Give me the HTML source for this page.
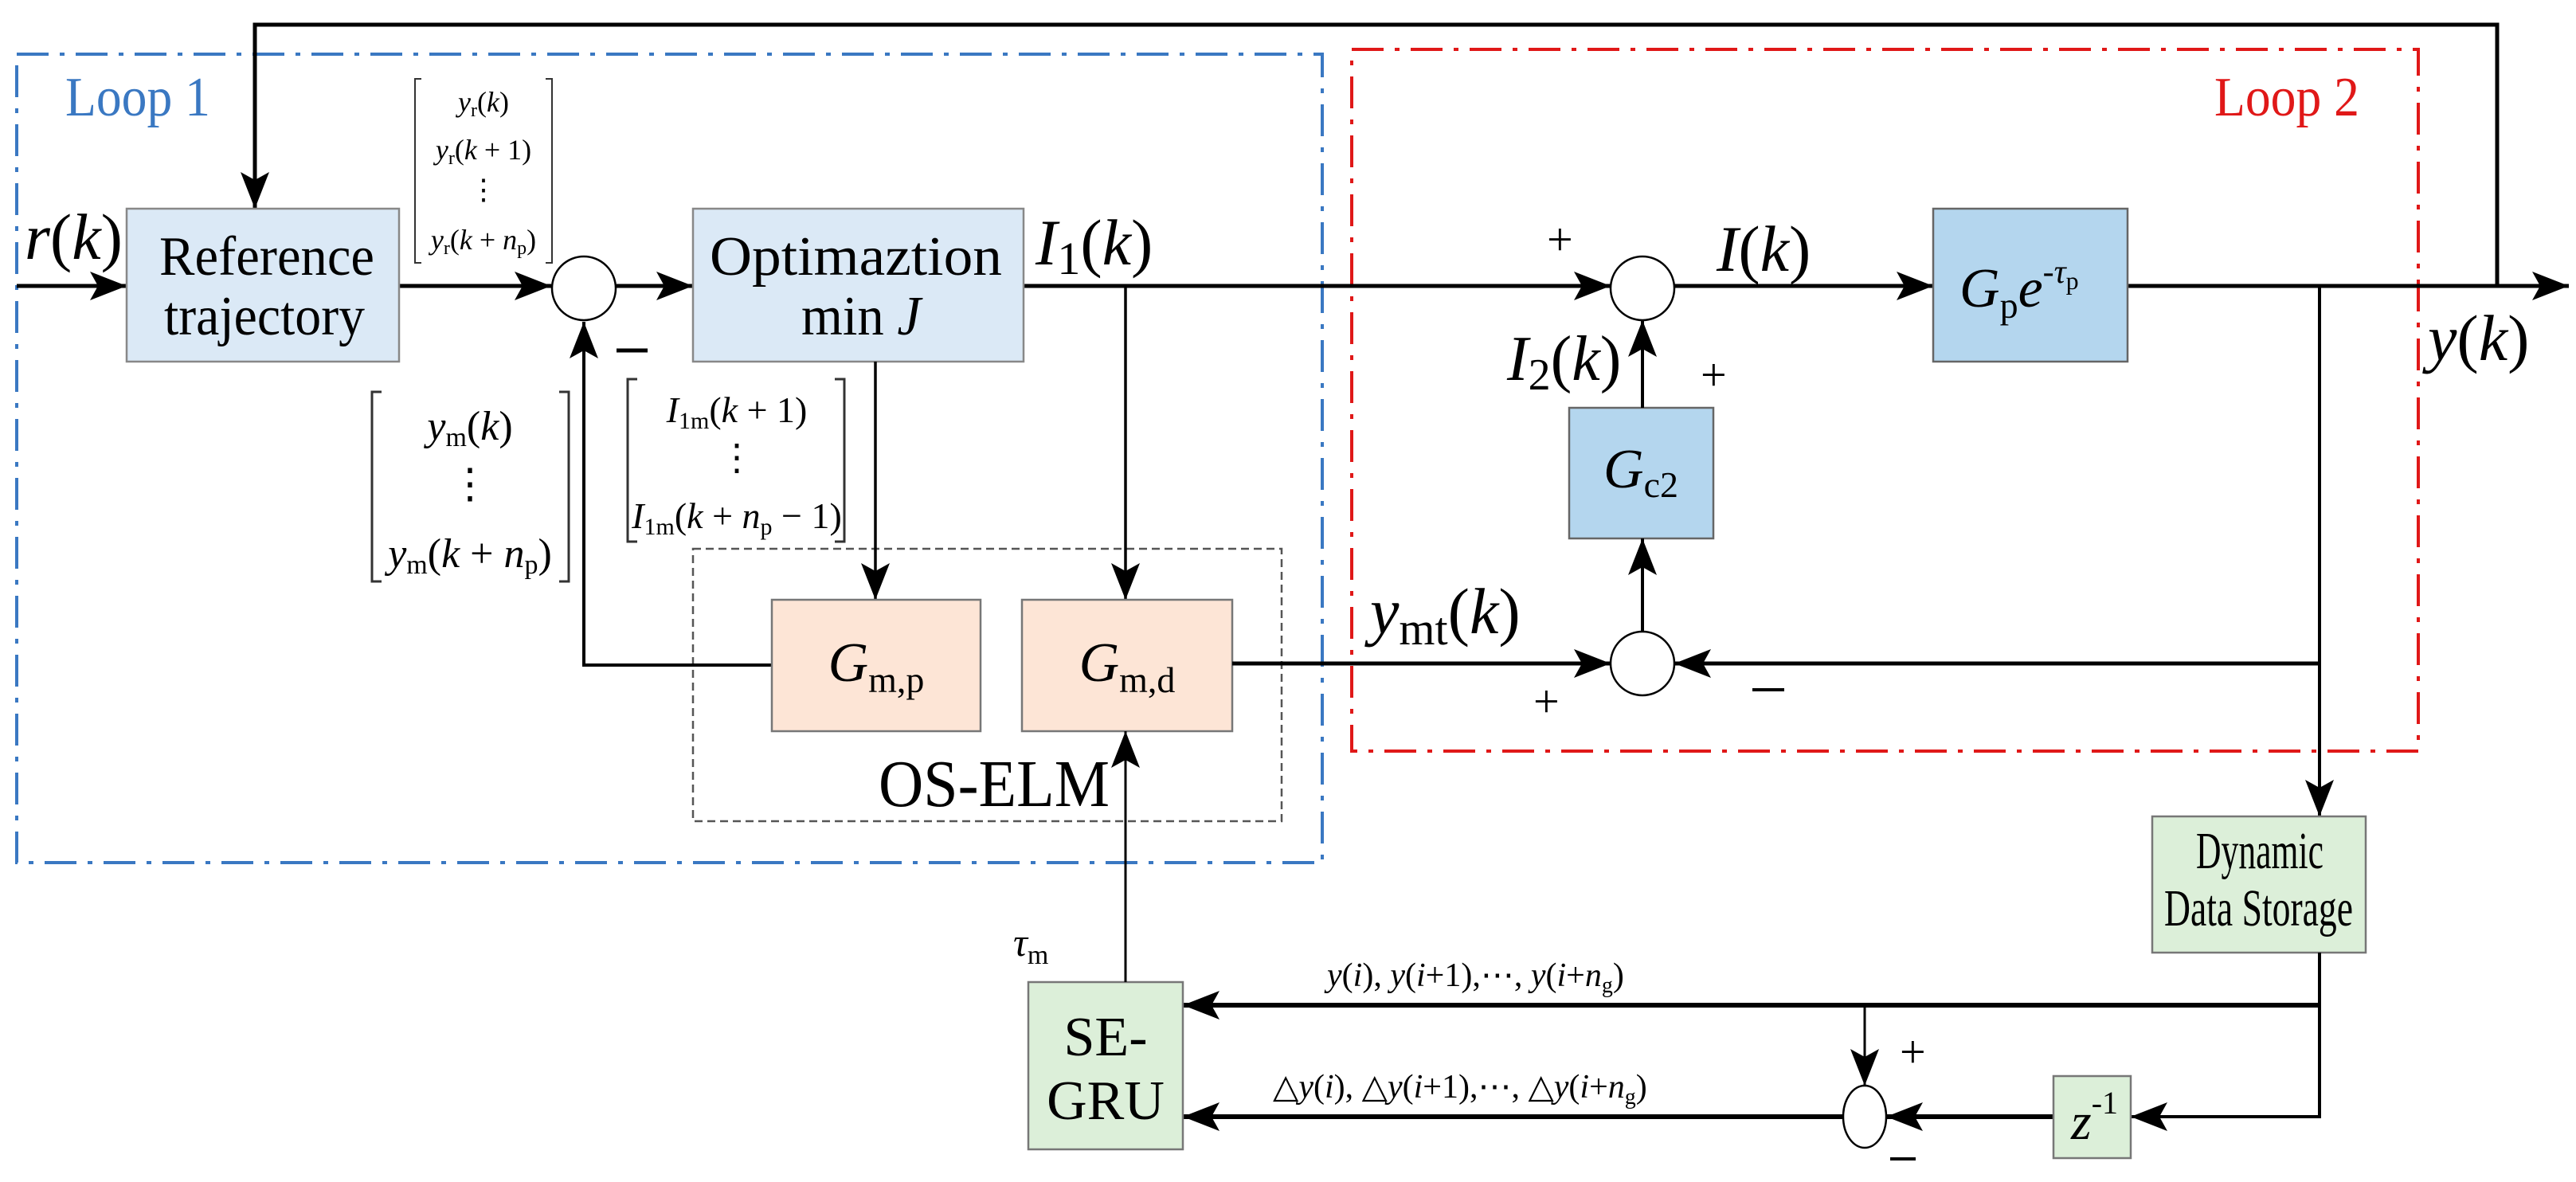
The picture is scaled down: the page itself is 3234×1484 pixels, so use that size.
<!DOCTYPE html>
<html><head><meta charset="utf-8"><style>
html,body{margin:0;padding:0;background:#fff;}
svg{display:block;}
text{font-family:"Liberation Serif",serif;fill:#000;}
.it{font-style:italic;}
</style></head><body>
<svg width="3234" height="1484" viewBox="0 0 3234 1484" xmlns="http://www.w3.org/2000/svg">
<defs>
<marker id="a" markerUnits="userSpaceOnUse" markerWidth="50" markerHeight="40" refX="46" refY="18" orient="auto">
<path d="M0,0 L46,18 L0,36 L10,18 Z" fill="#000"/>
</marker>
</defs>

<!-- Loop boxes -->
<rect x="21" y="68" width="1639" height="1015" fill="none" stroke="#3a78c2" stroke-width="4" stroke-dasharray="40,14,6,14"/>
<text x="82" y="145" font-size="70" textLength="182" lengthAdjust="spacingAndGlyphs" style="fill:#3a78c2">Loop 1</text>
<rect x="1697" y="62" width="1339" height="881" fill="none" stroke="#e01818" stroke-width="4" stroke-dasharray="40,14,6,14"/>
<text x="2780" y="145" font-size="70" textLength="182" lengthAdjust="spacingAndGlyphs" style="fill:#e01818">Loop 2</text>

<!-- OS-ELM dashed box -->
<rect x="870" y="689" width="739" height="342" fill="none" stroke="#555" stroke-width="2.5" stroke-dasharray="10,6"/>
<text x="1103" y="1012" font-size="84" textLength="290" lengthAdjust="spacingAndGlyphs">OS-ELM</text>

<!-- top feedback -->
<polyline points="3135,359 3135,31 320,31 320,262" fill="none" stroke="#000" stroke-width="5" marker-end="url(#a)"/>

<!-- main line -->
<line x1="21" y1="359" x2="159" y2="359" stroke="#000" stroke-width="5" marker-end="url(#a)"/>
<line x1="501" y1="359" x2="692" y2="359" stroke="#000" stroke-width="5" marker-end="url(#a)"/>
<line x1="774" y1="359" x2="870" y2="359" stroke="#000" stroke-width="5" marker-end="url(#a)"/>
<line x1="1285" y1="359" x2="2022" y2="359" stroke="#000" stroke-width="5" marker-end="url(#a)"/>
<line x1="2102" y1="359" x2="2427" y2="359" stroke="#000" stroke-width="5" marker-end="url(#a)"/>
<line x1="2671" y1="359" x2="3225" y2="359" stroke="#000" stroke-width="5" marker-end="url(#a)"/>

<!-- blocks -->
<rect x="159" y="262" width="342" height="192" fill="#dbe9f6" stroke="#888" stroke-width="2.5"/>
<text x="200" y="345" font-size="70" textLength="270" lengthAdjust="spacingAndGlyphs">Reference</text>
<text x="206" y="420" font-size="70" textLength="252" lengthAdjust="spacingAndGlyphs">trajectory</text>
<rect x="870" y="262" width="415" height="192" fill="#dbe9f6" stroke="#888" stroke-width="2.5"/>
<text x="891" y="345" font-size="70" textLength="367" lengthAdjust="spacingAndGlyphs">Optimaztion</text>
<text x="1006" y="420" font-size="70" textLength="150" lengthAdjust="spacingAndGlyphs">min <tspan class="it">J</tspan></text>

<circle cx="733" cy="362" r="40" fill="#fff" stroke="#000" stroke-width="2.5"/>
<line x1="774" y1="440" x2="813" y2="440" stroke="#000" stroke-width="5"/>

<text x="31" y="325" font-size="82" class="it">r<tspan font-style="normal">(</tspan>k<tspan font-style="normal">)</tspan></text>
<text x="1300" y="332" font-size="82" class="it">I<tspan font-style="normal" font-size="58" dy="12">1</tspan><tspan font-style="normal" dy="-12">(</tspan>k<tspan font-style="normal">)</tspan></text>

<!-- yr vector -->
<path d="M529,99 H521 V330 H529 M685,99 H693 V330 H685" fill="none" stroke="#333" stroke-width="2"/>
<g font-size="36" text-anchor="middle">
<text x="607" y="140" class="it">y<tspan font-style="normal" font-size="24" dy="6">r</tspan><tspan font-style="normal" dy="-6">(</tspan>k<tspan font-style="normal">)</tspan></text>
<text x="607" y="200" class="it">y<tspan font-style="normal" font-size="24" dy="6">r</tspan><tspan font-style="normal" dy="-6">(</tspan>k<tspan font-style="normal"> + 1)</tspan></text>
<text x="607" y="250">⋮</text>
<text x="607" y="313" class="it">y<tspan font-style="normal" font-size="24" dy="6">r</tspan><tspan font-style="normal" dy="-6">(</tspan>k<tspan font-style="normal"> + </tspan>n<tspan font-style="normal" font-size="24" dy="6">p</tspan><tspan font-style="normal" dy="-6">)</tspan></text>
</g>

<!-- ym vector -->
<path d="M479,492 H467 V730 H479 M702,492 H714 V730 H702" fill="none" stroke="#333" stroke-width="3"/>
<g font-size="52" text-anchor="middle">
<text x="590" y="552" class="it">y<tspan font-style="normal" font-size="34" dy="8">m</tspan><tspan font-style="normal" dy="-8">(</tspan>k<tspan font-style="normal">)</tspan></text>
<text x="590" y="625">⋮</text>
<text x="590" y="712" class="it">y<tspan font-style="normal" font-size="34" dy="8">m</tspan><tspan font-style="normal" dy="-8">(</tspan>k<tspan font-style="normal"> + </tspan>n<tspan font-style="normal" font-size="34" dy="8">p</tspan><tspan font-style="normal" dy="-8">)</tspan></text>
</g>

<!-- I1m vector -->
<path d="M800,476 H788 V680 H800 M1048,476 H1060 V680 H1048" fill="none" stroke="#333" stroke-width="3"/>
<g font-size="46" text-anchor="middle">
<text x="925" y="530" class="it">I<tspan font-style="normal" font-size="30" dy="8">1m</tspan><tspan font-style="normal" dy="-8">(</tspan>k<tspan font-style="normal"> + 1)</tspan></text>
<text x="925" y="590">⋮</text>
<text x="925" y="663" class="it">I<tspan font-style="normal" font-size="30" dy="8">1m</tspan><tspan font-style="normal" dy="-8">(</tspan>k<tspan font-style="normal"> + </tspan>n<tspan font-style="normal" font-size="30" dy="8">p</tspan><tspan font-style="normal" dy="-8"> − 1)</tspan></text>
</g>

<!-- model arrows -->
<line x1="1099" y1="454" x2="1099" y2="753" stroke="#000" stroke-width="3.5" marker-end="url(#a)"/>
<line x1="1413" y1="359" x2="1413" y2="753" stroke="#000" stroke-width="3.5" marker-end="url(#a)"/>
<polyline points="969,835 733,835 733,404" fill="none" stroke="#000" stroke-width="4" marker-end="url(#a)"/>

<rect x="969" y="753" width="262" height="165" fill="#fde5d6" stroke="#777" stroke-width="2.5"/>
<text x="1100" y="855" font-size="70" text-anchor="middle" class="it">G<tspan font-style="normal" font-size="46" dy="14">m,p</tspan></text>
<rect x="1283" y="753" width="264" height="165" fill="#fde5d6" stroke="#777" stroke-width="2.5"/>
<text x="1415" y="855" font-size="70" text-anchor="middle" class="it">G<tspan font-style="normal" font-size="46" dy="14">m,d</tspan></text>

<!-- Loop2 internals -->
<circle cx="2062" cy="362" r="40" fill="#fff" stroke="#000" stroke-width="2.5"/>
<text x="1942" y="320" font-size="58">+</text>
<text x="2155" y="340" font-size="82" class="it">I<tspan font-style="normal">(</tspan>k<tspan font-style="normal">)</tspan></text>

<rect x="2427" y="262" width="244" height="192" fill="#b4d6ee" stroke="#666" stroke-width="2.5"/>
<text x="2460" y="385" font-size="70" class="it">G<tspan font-style="normal" font-size="46" dy="14">p</tspan><tspan dy="-14">e</tspan><tspan font-size="42" dy="-30">-τ</tspan><tspan font-style="normal" font-size="32" dy="8">p</tspan></text>

<text x="3048" y="452" font-size="82" class="it">y<tspan font-style="normal">(</tspan>k<tspan font-style="normal">)</tspan></text>

<rect x="1970" y="512" width="181" height="164" fill="#b4d6ee" stroke="#666" stroke-width="2.5"/>
<text x="2060" y="612" font-size="70" text-anchor="middle" class="it">G<tspan font-style="normal" font-size="46" dy="12">c2</tspan></text>
<line x1="2062" y1="512" x2="2062" y2="402" stroke="#000" stroke-width="4" marker-end="url(#a)"/>
<text x="1892" y="477" font-size="80" class="it">I<tspan font-style="normal" font-size="56" dy="12">2</tspan><tspan font-style="normal" dy="-12">(</tspan>k<tspan font-style="normal">)</tspan></text>
<text x="2135" y="490" font-size="58">+</text>

<circle cx="2062" cy="833" r="40" fill="#fff" stroke="#000" stroke-width="2.5"/>
<line x1="2062" y1="793" x2="2062" y2="676" stroke="#000" stroke-width="4" marker-end="url(#a)"/>
<line x1="1547" y1="833" x2="2022" y2="833" stroke="#000" stroke-width="5" marker-end="url(#a)"/>
<text x="1720" y="795" font-size="82" class="it">y<tspan font-style="normal" font-size="58" dy="14">mt</tspan><tspan font-style="normal" dy="-14">(</tspan>k<tspan font-style="normal">)</tspan></text>
<text x="1925" y="900" font-size="58">+</text>
<line x1="2200" y1="866" x2="2240" y2="866" stroke="#000" stroke-width="4"/>

<line x1="2912" y1="359" x2="2912" y2="1025" stroke="#000" stroke-width="4" marker-end="url(#a)"/>
<line x1="2912" y1="833" x2="2102" y2="833" stroke="#000" stroke-width="5" marker-end="url(#a)"/>

<!-- lower section -->
<rect x="2702" y="1025" width="268" height="171" fill="#dcefd9" stroke="#777" stroke-width="2.5"/>
<text x="2757" y="1090" font-size="66" textLength="160" lengthAdjust="spacingAndGlyphs">Dynamic</text>
<text x="2717" y="1162" font-size="66" textLength="237" lengthAdjust="spacingAndGlyphs">Data Storage</text>

<polyline points="2912,1196 2912,1402 2675,1402" fill="none" stroke="#000" stroke-width="4" marker-end="url(#a)"/>
<line x1="2912" y1="1262" x2="1485" y2="1262" stroke="#000" stroke-width="6" marker-end="url(#a)"/>
<line x1="2341" y1="1262" x2="2341" y2="1363" stroke="#000" stroke-width="3" marker-end="url(#a)"/>
<ellipse cx="2341" cy="1402" rx="27" ry="39" fill="#fff" stroke="#000" stroke-width="2.5"/>
<text x="2385" y="1340" font-size="58">+</text>
<line x1="2373" y1="1455" x2="2405" y2="1455" stroke="#000" stroke-width="4"/>
<line x1="2578" y1="1402" x2="2368" y2="1402" stroke="#000" stroke-width="6" marker-end="url(#a)"/>
<line x1="2314" y1="1402" x2="1485" y2="1402" stroke="#000" stroke-width="6" marker-end="url(#a)"/>

<rect x="2578" y="1351" width="97" height="103" fill="#dcefd9" stroke="#777" stroke-width="2.5"/>
<text x="2600" y="1430" font-size="66" class="it">z<tspan font-style="normal" font-size="40" dy="-32">-1</tspan></text>

<rect x="1291" y="1233" width="194" height="210" fill="#dcefd9" stroke="#777" stroke-width="2.5"/>
<text x="1388" y="1325" font-size="70" text-anchor="middle">SE-</text>
<text x="1388" y="1405" font-size="70" text-anchor="middle">GRU</text>
<line x1="1413" y1="1233" x2="1413" y2="918" stroke="#000" stroke-width="3" marker-end="url(#a)"/>
<text x="1272" y="1200" font-size="50" class="it">τ<tspan font-style="normal" font-size="34" dy="10">m</tspan></text>

<text x="1666" y="1238" font-size="42" class="it">y<tspan font-style="normal">(</tspan>i<tspan font-style="normal">), </tspan>y<tspan font-style="normal">(</tspan>i<tspan font-style="normal">+1),⋯, </tspan>y<tspan font-style="normal">(</tspan>i<tspan font-style="normal">+</tspan>n<tspan font-style="normal" font-size="28" dy="8">g</tspan><tspan font-style="normal" dy="-8">)</tspan></text>
<text x="1598" y="1378" font-size="42" class="it"><tspan font-style="normal">△</tspan>y<tspan font-style="normal">(</tspan>i<tspan font-style="normal">), △</tspan>y<tspan font-style="normal">(</tspan>i<tspan font-style="normal">+1),⋯, △</tspan>y<tspan font-style="normal">(</tspan>i<tspan font-style="normal">+</tspan>n<tspan font-style="normal" font-size="28" dy="8">g</tspan><tspan font-style="normal" dy="-8">)</tspan></text>
</svg>
</body></html>
